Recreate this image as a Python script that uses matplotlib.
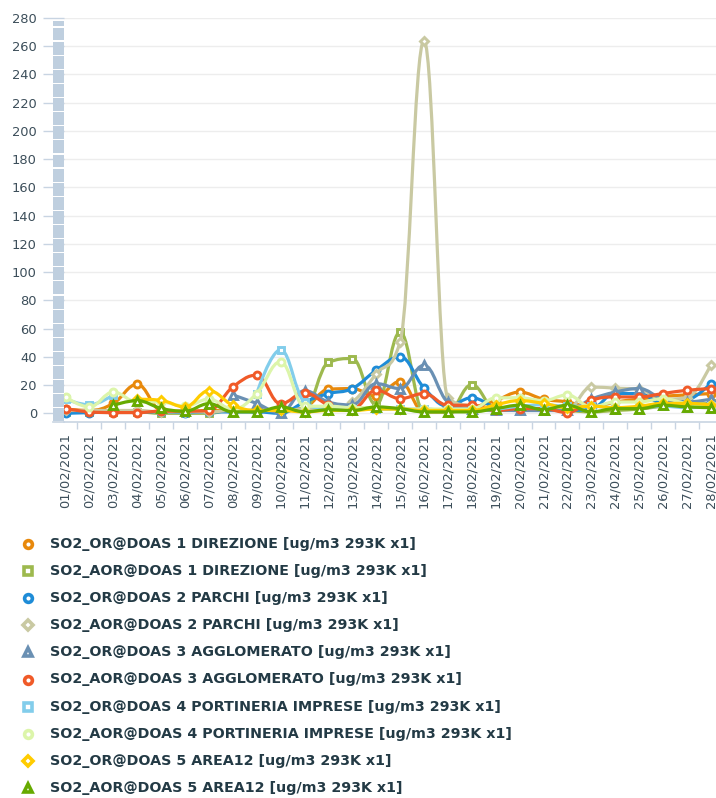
import numpy as np
import matplotlib
matplotlib.use("Agg")
import matplotlib.pyplot as plt
from matplotlib.path import Path
from matplotlib.patches import PathPatch, Rectangle

nan = np.nan

dates = ["01/02/2021", "02/02/2021", "03/02/2021", "04/02/2021", "05/02/2021",
         "06/02/2021", "07/02/2021", "08/02/2021", "09/02/2021", "10/02/2021",
         "11/02/2021", "12/02/2021", "13/02/2021", "14/02/2021", "15/02/2021",
         "16/02/2021", "17/02/2021", "18/02/2021", "19/02/2021", "20/02/2021",
         "21/02/2021", "22/02/2021", "23/02/2021", "24/02/2021", "25/02/2021",
         "26/02/2021", "27/02/2021", "28/02/2021"]

or_doas1 = [3, 2, 7, 20.5, 2, 1, 2, 2, 2, 2, 4, 17, 17.5, 12, 22.5, 1, 1, 4, 9, 15, 10, 8, 4.5, 8, 10, 12, 13, 14]
aor_doas1 = [1, 1, 1, 1, 0, 0, 0, 2.5, 1, 3, 3.3, 36, 38.8, 6, 57.5, 1, 1, 20.3, 3, 3, 3, 2, 1, 2, 3, 5, 6, 7]
or_doas2 = [0, 0.5, 1, 1, 1, 0.5, 1, 1, 1, 0, 8, 14, 17.5, 30.5, 40, 18, 5, 11, 4, 2, 2, 2, 3, 14, 14, 7, 9, 21]
aor_doas2 = [2, 2, 2, 2, 1, 1, 1, 2, 2, 2, 3, 3, 8, 28, 50.5, 264, 11, 5, 3, 3, 3, 3, 18.6, 17.8, 17, 10, 11, 34.5]
or_doas3 = [nan, nan, nan, nan, nan, nan, nan, 13, 7, 0.3, 16, 8, 6, 21, 17.5, 34, 8, 3, 2, 2, 2, 2, 10, 15, 17.5, 10, 8, 10]
aor_doas3 = [3.3, 1, 0.5, 0.5, 1.5, 1.5, 2, 18.6, 27, 6.8, 14.5, 6, 3, 16.3, 10.4, 14, 5.7, 5.7, 2, 3.3, 3.3, 0.5, 9.2, 11.6, 11.6, 14, 16.3, 17.5]
or_doas4 = [10, 6, 13, nan, nan, nan, nan, nan, 14, 45, 8, 3, 3, 3, 3, 3, 2, 2, 3, 5, 6, 5, 5, 4, 4, 5, 4, 5]
aor_doas4 = [11.5, 4.5, 15, 8, 8, 5, 10, 3, 14, 36.5, 5, 5, 4, 4, 3, 3, 3, 3, 10.9, 11, 9, 13, 4.5, 8, 8, 10.4, 6.9, 5.7]
or_doas5 = [nan, nan, nan, 10, 9.2, 4.5, 16, 5.7, 2, 2, 1, 2, 2, 3, 3, 2, 2, 2, 6, 9, 7, 4, 5, 4, 5, 7, 7, 6]
aor_doas5 = [nan, nan, 5.7, 9, 3.5, 1.5, 6.8, 1, 1, 4.5, 1, 2.5, 2, 4.5, 3.3, 1, 1, 1, 3.3, 5.7, 2.6, 5.7, 1, 3.3, 3.3, 5.7, 4.5, 4]

series_names = [
    "SO2_OR@DOAS 1 DIREZIONE [ug/m3 293K x1]",
    "SO2_AOR@DOAS 1 DIREZIONE [ug/m3 293K x1]",
    "SO2_OR@DOAS 2 PARCHI [ug/m3 293K x1]",
    "SO2_AOR@DOAS 2 PARCHI [ug/m3 293K x1]",
    "SO2_OR@DOAS 3 AGGLOMERATO [ug/m3 293K x1]",
    "SO2_AOR@DOAS 3 AGGLOMERATO [ug/m3 293K x1]",
    "SO2_OR@DOAS 4 PORTINERIA IMPRESE [ug/m3 293K x1]",
    "SO2_AOR@DOAS 4 PORTINERIA IMPRESE [ug/m3 293K x1]",
    "SO2_OR@DOAS 5 AREA12 [ug/m3 293K x1]",
    "SO2_AOR@DOAS 5 AREA12 [ug/m3 293K x1]",
]
series_values = [or_doas1, aor_doas1, or_doas2, aor_doas2, or_doas3,
                 aor_doas3, or_doas4, aor_doas4, or_doas5, aor_doas5]
colors = ["#E8890C", "#9DB94E", "#1E8CD7", "#C9C9A2", "#6A90B3",
          "#F05A28", "#82CDEB", "#DCF5AA", "#FFCC00", "#66AA00"]
markers = ["o", "s", "o", "D", "^", "o", "s", "o", "D", "^"]
plot_ms = {"o": 5.0, "s": 4.6, "D": 4.2, "^": 5.4}
legend_ms = {"o": 5.6, "s": 5.2, "D": 4.6, "^": 6.0}


def spline_path(X, Y):
    m = len(X)
    sm = 1.5
    den = sm + 1
    lc = [None] * m
    rc = [None] * m
    for k in range(1, m - 1):
        px, py = X[k], Y[k]
        lx, ly = X[k - 1], Y[k - 1]
        nx, ny = X[k + 1], Y[k + 1]
        lcx = (sm * px + lx) / den
        lcy = (sm * py + ly) / den
        rcx = (sm * px + nx) / den
        rcy = (sm * py + ny) / den
        corr = 0.0
        if rcx != lcx:
            corr = (rcy - lcy) * (rcx - px) / (rcx - lcx) + py - rcy
        lcy += corr
        rcy += corr
        if lcy > ly and lcy > py:
            lcy = max(ly, py); rcy = 2 * py - lcy
        elif lcy < ly and lcy < py:
            lcy = min(ly, py); rcy = 2 * py - lcy
        if rcy > ny and rcy > py:
            rcy = max(ny, py); lcy = 2 * py - rcy
        elif rcy < ny and rcy < py:
            rcy = min(ny, py); lcy = 2 * py - rcy
        lc[k] = (lcx, lcy)
        rc[k] = (rcx, rcy)
    verts = [(X[0], Y[0])]
    codes = [Path.MOVETO]
    for k in range(1, m):
        a = rc[k - 1] if rc[k - 1] is not None else (X[k - 1], Y[k - 1])
        b = lc[k] if lc[k] is not None else (X[k], Y[k])
        verts += [a, b, (X[k], Y[k])]
        codes += [Path.CURVE4] * 3
    return Path(verts, codes)


def segments(xs, ys):
    out = []
    n = len(xs)
    i = 0
    while i < n:
        if np.isnan(ys[i]):
            i += 1
            continue
        j = i
        while j + 1 < n and not np.isnan(ys[j + 1]):
            j += 1
        out.append((xs[i:j + 1], ys[i:j + 1]))
        i = j + 1
    return out


W, H = 716, 798
fig = plt.figure(figsize=(W / 100, H / 100), dpi=100)
fig.patch.set_facecolor("white")

ax_l, ax_r, ax_t, ax_b = 64, 716, 18, 422
ax = fig.add_axes([ax_l / W, (H - ax_b) / H, (ax_r - ax_l) / W, (ax_b - ax_t) / H])
ax.set_facecolor("white")

x = np.arange(len(dates), dtype=float)
for idx, (vals, c, mk) in enumerate(zip(series_values, colors, markers)):
    y = np.array(vals, dtype=float)
    for sx, sy in segments(x, y):
        if len(sx) > 1:
            p = PathPatch(spline_path(list(sx), list(sy)), fill=False, edgecolor=c,
                          lw=2.3, capstyle="round", joinstyle="round", zorder=3 + idx)
            ax.add_patch(p)
    ax.plot(x, y, ls="none", marker=mk, ms=plot_ms[mk], mfc="white", mec=c, mew=2.1,
            zorder=3.5 + idx)

y_scale = (413.3 - 18.3) / 280.0
ax.set_ylim(-(ax_b - 413.3) / y_scale, 280)
ax.set_xlim(-(65.5 - ax_l) / 23.9, (ax_r - 65.5) / 23.9)

ax.set_yticks(np.arange(0, 281, 20))
ax.yaxis.grid(True, color="#EDEDED", lw=1)
ax.set_axisbelow(True)
ax.tick_params(axis="y", length=15, width=1, color="#C8D4E2", pad=4.5,
               labelsize=9.4, labelcolor="#3C4E5A")

ax.set_xticks(x)
ax.set_xticklabels(dates, rotation=90, va="top", ha="center")
ax.set_xticks(x[:-1] + 0.5, minor=True)
ax.tick_params(axis="x", which="major", length=0, pad=8, labelsize=9.4,
               labelcolor="#3C4E5A")
ax.tick_params(axis="x", which="minor", length=5, width=1, color="#C8D4E2")

for s in ["top", "right", "left"]:
    ax.spines[s].set_visible(False)
ax.spines["bottom"].set_color("#C8D4E2")
ax.spines["bottom"].set_linewidth(1.2)

# overlay in pixel coordinates (top-left origin)
lax = fig.add_axes([0, 0, 1, 1], zorder=10)
lax.set_xlim(0, W)
lax.set_ylim(H, 0)
lax.axis("off")
lax.patch.set_visible(False)

# segmented bar at the left of the plot
seg = 14.11
ytop, ybot = 20, 422
yy = ybot
while yy > ytop:
    top = max(ytop, yy - seg)
    lax.add_patch(Rectangle((53, top + 0.6), 10.5, (yy - top) - 1.2,
                            facecolor="#BFCFDF", edgecolor="none"))
    yy -= seg
lax.plot([53, 64], [422, 422], color="#C8D4E2", lw=1.2)

# legend
row0, drow = 544, 27.1
mk_x, tx_x = 28.2, 50
fig.canvas.draw()
renderer = fig.canvas.get_renderer()
probe = lax.text(tx_x, row0, series_names[0], fontsize=10, fontweight="bold",
                 va="center", ha="left")
wpx = probe.get_window_extent(renderer).width
probe.remove()
legend_fs = 10 * 367.0 / wpx

for k, (name, c, mk) in enumerate(zip(series_names, colors, markers)):
    yk = row0 + k * drow
    lax.plot([mk_x], [yk], ls="none", marker=mk, ms=legend_ms[mk], mfc="white",
             mec=c, mew=2.6)
    lax.text(tx_x, yk, name, fontsize=legend_fs, fontweight="bold",
             color="#233A45", va="center", ha="left")

fig.savefig("out.png", dpi=100, facecolor="white")
